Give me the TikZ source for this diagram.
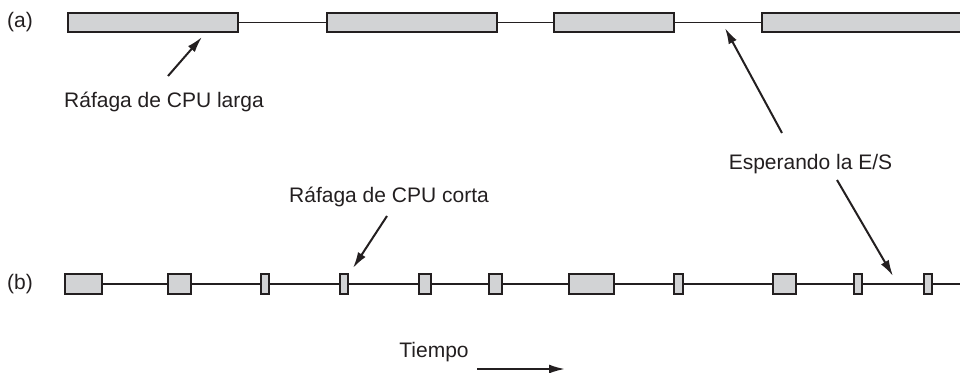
\documentclass[tikz,border=0pt]{standalone}
\usepackage{fontspec}
\setmainfont{Liberation Sans}
\usetikzlibrary{arrows.meta}
\definecolor{burstfill}{RGB}{210,211,213}
\definecolor{ink}{RGB}{35,31,32}
\begin{document}
\begin{tikzpicture}[
 x=1pt,y=-1pt,
 every node/.style={font=\fontsize{21}{25}\selectfont,inner sep=0pt,text=ink},
 burst/.style={draw=ink,fill=burstfill,line width=2pt,minimum height=19.5pt},
 idle/.style={draw=ink,line width=1.7pt},
 arrow/.style={-{Latex[length=16pt,width=9pt]},draw=ink,line width=2pt}
]
\clip (0,0) rectangle (960,372);
\node (rowa) at (20,22.5) {(a)};
\node[burst,minimum width=170pt] (a1) at (153,22.5) {};
\node[burst,minimum width=170pt] (a2) at (412,22.5) {};
\node[burst,minimum width=120pt] (a3) at (614,22.5) {};
\node[burst,minimum width=216pt] (a4) at (870,22.5) {};
\draw[idle] (a1)--(a2);
\draw[idle] (a2)--(a3);
\draw[idle] (a3)--(a4);
\node (rowb) at (20,284) {(b)};
\node[burst,minimum width=37pt,minimum height=20pt] (b1) at (83.5,284) {};
\node[burst,minimum width=23pt,minimum height=20pt] (b2) at (179.5,284) {};
\node[burst,minimum width=8pt,minimum height=20pt] (b3) at (265,284) {};
\node[burst,minimum width=8pt,minimum height=20pt] (b4) at (344,284) {};
\node[burst,minimum width=12pt,minimum height=20pt] (b5) at (425,284) {};
\node[burst,minimum width=13pt,minimum height=20pt] (b6) at (495.5,284) {};
\node[burst,minimum width=45pt,minimum height=20pt] (b7) at (591.5,284) {};
\node[burst,minimum width=9pt,minimum height=20pt] (b8) at (678.5,284) {};
\node[burst,minimum width=23pt,minimum height=20pt] (b9) at (784.5,284) {};
\node[burst,minimum width=8pt,minimum height=20pt] (b10) at (858,284) {};
\node[burst,minimum width=8pt,minimum height=20pt] (b11) at (928,284) {};
\coordinate (bend) at (962,284);
\draw[idle] (b1)--(b2);
\draw[idle] (b2)--(b3);
\draw[idle] (b3)--(b4);
\draw[idle] (b4)--(b5);
\draw[idle] (b5)--(b6);
\draw[idle] (b6)--(b7);
\draw[idle] (b7)--(b8);
\draw[idle] (b8)--(b9);
\draw[idle] (b9)--(b10);
\draw[idle] (b10)--(b11);
\draw[idle] (b11)--(bend);
\node[anchor=base] (larga) at (164,107) {Ráfaga de CPU larga};
\node[anchor=base] (wait) at (810.5,169) {Esperando la E/S};
\node[anchor=base] (corta) at (389,202) {Ráfaga de CPU corta};
\node[anchor=base] (tiempo) at (434,357) {Tiempo};
\coordinate (tipa) at (202,37);
\coordinate (tipwa) at (725,28);
\coordinate (tipwb) at (893,276);
\coordinate (tipc) at (353,268);
\coordinate (tend) at (565,369);
\draw[arrow] ([xshift=4pt,yshift=31pt]larga.base)--(tipa);
\draw[arrow] ([xshift=-28.5pt,yshift=36pt]wait.base)--(tipwa);
\draw[arrow] ([xshift=26.5pt,yshift=-11pt]wait.base)--(tipwb);
\draw[arrow] ([xshift=-2pt,yshift=-14pt]corta.base)--(tipc);
\draw[arrow] ([xshift=43pt,yshift=-12pt]tiempo.base)--(tend);
\end{tikzpicture}
\end{document}
